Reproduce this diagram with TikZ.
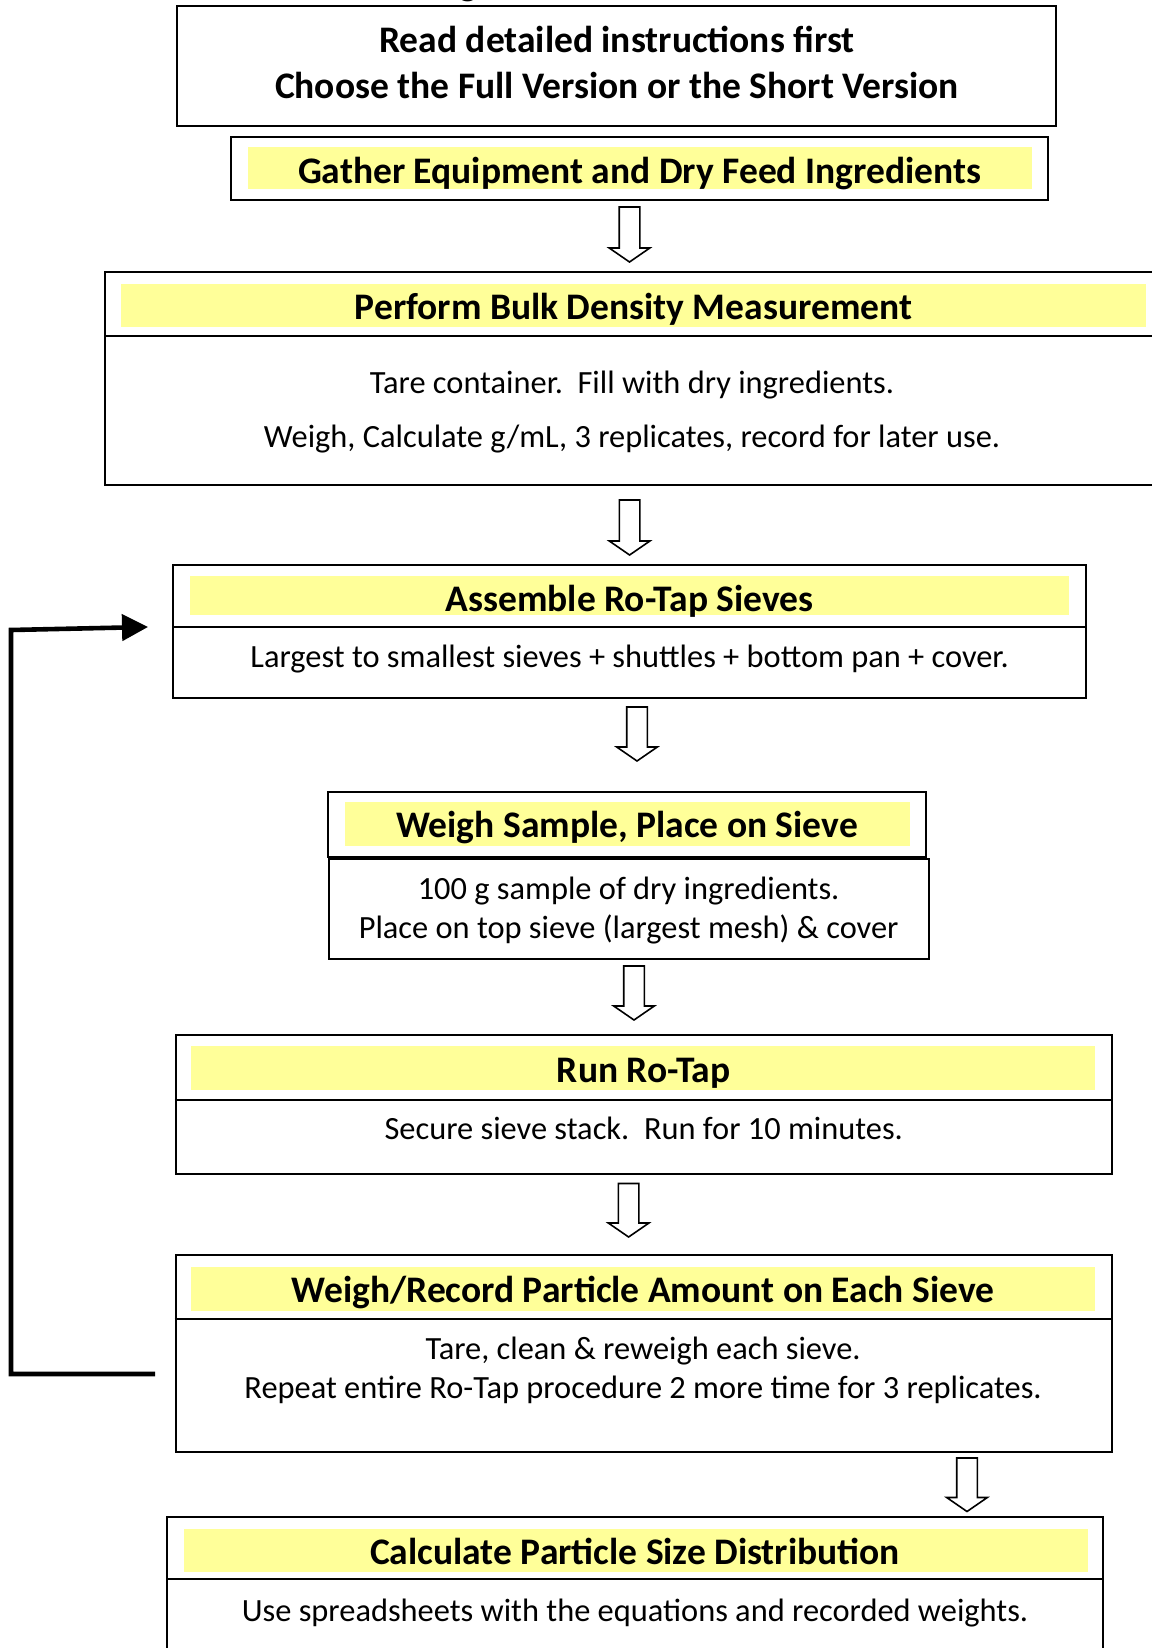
\documentclass[tikz,border=0pt]{standalone}
\usepackage{fontspec}
\setmainfont{Carlito}
\usetikzlibrary{arrows.meta,fit}
\definecolor{hl}{HTML}{FFFF99}
\tikzset{
  box/.style={draw=black, line width=1pt, inner sep=0pt},
  hlbox/.style={fill=hl, draw=none, inner sep=0pt},
  ttl/.style={font=\bfseries\fontsize{18.75}{22}\selectfont, inner sep=0pt, anchor=base},
  bodytxt/.style={font=\fontsize{16.2}{19}\selectfont, inner sep=0pt, anchor=base},
  blk/.style={draw=black, line width=0.8pt, fill=white, line join=miter},
  fbline/.style={line width=2.3pt, -{Triangle[length=13pt,width=13pt]}},
}
\newcommand{\blkarrow}[4]{%
  \coordinate (#1) at (#2,#3);
  \draw[blk] (#1) ++(-10.3,0) -- ++(20.6,0) -- ++(0,{#4-#3-14}) -- ++(10,0)
    -- ++(-20.3,14) -- ++(-20.3,-14) -- ++(10,0) -- cycle;}
\begin{document}
\begin{tikzpicture}[x=0.5pt,y=-0.5pt]
\useasboundingbox (0,0) rectangle (1151,1648);
% cut-off title fragment
\node[ttl] (frag) at (468,-4) {g};
% box 1
\node[box, fit={(176.6,6.3) (1056.4,126.1)}] (b1) {};
\node[ttl] (t1a) at (617,52.5) {Read detailed instructions first};
\node[ttl] (t1b) at (617,98.5) {Choose the Full Version or the Short Version};
% box 2
\node[box, fit={(231.2,136.6) (1048,199.7)}] (b2) {};
\node[hlbox, fit={(248,147) (1032,189)}] (h2) {};
\node[ttl] (t2) at (639.6,183.5) {Gather Equipment and Dry Feed Ingredients};
\blkarrow{a1}{629.5}{207}{262}
% box 3
\node[box, fit={(105,272) (1165,485)}] (b3) {};
\draw[line width=1pt] (105,336) -- (1165,336);
\node[hlbox, fit={(121,284) (1146,327)}] (h3) {};
\node[ttl] (t3) at (633.5,319.5) {Perform Bulk Density Measurement};
\node[bodytxt] (t3a) at (632,393.5) {Tare container.\ \ Fill with dry ingredients.};
\node[bodytxt] (t3b) at (632,447.5) {Weigh, Calculate g/mL, 3 replicates, record for later use.};
\blkarrow{a2}{629.6}{500}{555}
% box 4
\node[box, fit={(173.4,564.5) (1085.8,697.5)}] (b4) {};
\draw[line width=1pt] (b4.west |- 0,626.5) -- (b4.east |- 0,626.5);
\node[hlbox, fit={(190,576) (1069,615)}] (h4) {};
\node[ttl] (t4) at (629.6,611.5) {Assemble Ro-Tap Sieves};
\node[bodytxt] (t4a) at (629.6,667.5) {Largest to smallest sieves + shuttles + bottom pan + cover.};
\blkarrow{a3}{637}{707}{761}
% box 5
\node[box, fit={(328,791.5) (926,856.6)}] (b5h) {};
\node[hlbox, fit={(345,802) (910,846)}] (h5) {};
\node[ttl] (t5) at (627,837.5) {Weigh Sample, Place on Sieve};
\node[box, fit={(329,858.8) (929,958.6)}] (b5) {};
\node[bodytxt] (t5a) at (628.6,899.5) {100 g sample of dry ingredients.};
\node[bodytxt] (t5b) at (628.6,938.5) {Place on top sieve (largest mesh) \& cover};
\blkarrow{a4}{634}{966}{1020}
% box 6
\node[box, fit={(175.5,1035) (1112,1174)}] (b6) {};
\draw[line width=1pt] (b6.west |- 0,1099.5) -- (b6.east |- 0,1099.5);
\node[hlbox, fit={(191,1046) (1095,1090)}] (h6) {};
\node[ttl] (t6) at (643.7,1082.5) {Run Ro-Tap};
\node[bodytxt] (t6a) at (643.7,1139.5) {Secure sieve stack.\ \ Run for 10 minutes.};
\blkarrow{a5}{628.6}{1183.5}{1237}
% box 7
\node[box, fit={(175.5,1255) (1112,1451.5)}] (b7) {};
\draw[line width=1pt] (b7.west |- 0,1319) -- (b7.east |- 0,1319);
\node[hlbox, fit={(191,1266.5) (1095,1311)}] (h7) {};
\node[ttl] (t7) at (643,1302.5) {Weigh/Record Particle Amount on Each Sieve};
\node[bodytxt] (t7a) at (643,1359) {Tare, clean \& reweigh each sieve.};
\node[bodytxt] (t7b) at (643,1398) {Repeat entire Ro-Tap procedure 2 more time for 3 replicates.};
\blkarrow{a6}{967}{1458}{1511.5}
% box 8
\node[box, fit={(167,1517) (1103,1665)}] (b8) {};
\draw[line width=1pt] (b8.west |- 0,1579) -- (b8.east |- 0,1579);
\node[hlbox, fit={(184,1529) (1088,1572)}] (h8) {};
\node[ttl] (t8) at (635,1564) {Calculate Particle Size Distribution};
\node[bodytxt] (t8a) at (635,1621.5) {Use spreadsheets with the equations and recorded weights.};
% feedback arrow
\coordinate (fbS) at (155,1374);
\coordinate (fbC1) at (11,1374);
\coordinate (fbC2) at (11,630);
\coordinate (fbE) at (148,627);
\draw[fbline] (fbS) -- (fbC1) -- (fbC2) -- (fbE);
\end{tikzpicture}
\end{document}
